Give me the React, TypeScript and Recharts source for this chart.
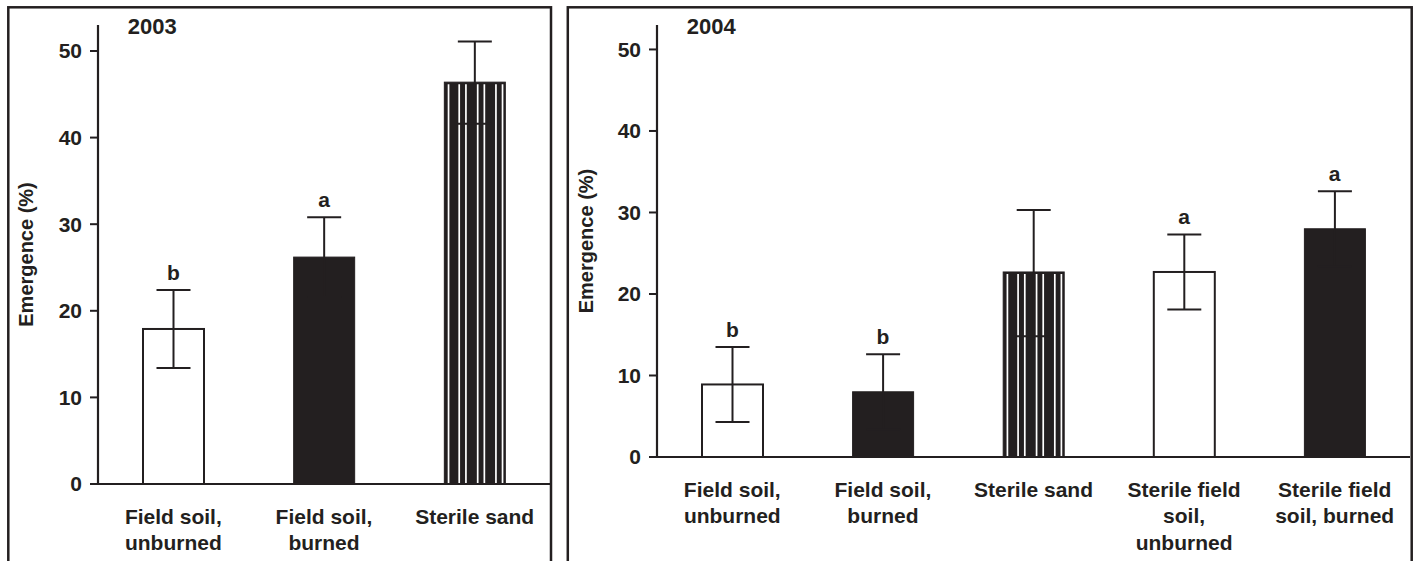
import React from 'react';
import { ComposedChart, Bar, Line, XAxis, YAxis, ErrorBar, LabelList } from 'recharts';

// ---------- data ----------
const categories2003 = ['Field soil,\nunburned', 'Field soil,\nburned', 'Sterile sand'];
const means2003 = [17.9, 26.2, 46.4];
const errLow2003 = [4.5, 4.6, 4.8];
const errHigh2003 = [4.5, 4.6, 4.7];
const letters2003 = ['b', 'a', ''];
const fills2003 = ['open', 'solid', 'striped'];

const categories2004 = [
  'Field soil,\nunburned',
  'Field soil,\nburned',
  'Sterile sand',
  'Sterile field\nsoil,\nunburned',
  'Sterile field\nsoil, burned',
];
const means2004 = [8.9, 8.0, 22.7, 22.7, 28.0];
const errLow2004 = [4.6, 4.6, 7.9, 4.6, 4.6];
const errHigh2004 = [4.6, 4.6, 7.6, 4.6, 4.6];
const letters2004 = ['b', 'b', '', 'a', 'a'];
const fills2004 = ['open', 'solid', 'striped', 'open', 'solid'];

const yTicks = [0, 10, 20, 30, 40, 50];
const yDomain: [number, number] = [0, 53];

const build = (
  cats: string[],
  means: number[],
  lo: number[],
  hi: number[],
  letters: string[],
  fills: string[]
) =>
  cats.map((c, i) => ({
    name: c,
    mean: means[i],
    err: [lo[i], hi[i]],
    top: means[i] + hi[i],
    letter: letters[i],
    kind: fills[i],
  }));

const data2003 = build(categories2003, means2003, errLow2003, errHigh2003, letters2003, fills2003);
const data2004 = build(categories2004, means2004, errLow2004, errHigh2004, letters2004, fills2004);

// ---------- style ----------
const INK = '#231f20';
const FONT = '"Liberation Sans", Arial, Helvetica, sans-serif';
const STRIPES = [0.069, 0.244, 0.354, 0.547, 0.656, 0.846, 0.954];

const BarShape = (props: any) => {
  const { x, y, width, height, payload } = props;
  if (width == null || height == null) return null;
  const kind = payload?.kind;
  if (kind === 'open') {
    return <rect x={x} y={y} width={width} height={height} fill="#fff" stroke={INK} strokeWidth={2} />;
  }
  if (kind === 'solid') {
    return <rect x={x} y={y} width={width} height={height} fill={INK} stroke={INK} strokeWidth={1} />;
  }
  return (
    <g>
      <rect x={x} y={y} width={width} height={height} fill={INK} stroke={INK} strokeWidth={1} />
      {STRIPES.map((f, i) => (
        <line
          key={i}
          x1={x + f * width}
          x2={x + f * width}
          y1={y + 2}
          y2={y + height}
          stroke="#fff"
          strokeWidth={1.7}
        />
      ))}
    </g>
  );
};

const XTick = (props: any) => {
  const { x, y, payload } = props;
  const lines = String(payload.value).split('\n');
  return (
    <g>
      {lines.map((l, i) => (
        <text
          key={i}
          x={x}
          y={y + 39.5 + i * 26.8}
          textAnchor="middle"
          fontFamily={FONT}
          fontWeight={700}
          fontSize={21}
          fill={INK}
        >
          {l}
        </text>
      ))}
    </g>
  );
};

const LetterLabel = (props: any) => {
  const { x, y, value } = props;
  if (!value) return null;
  return (
    <text x={x} y={y - 10} textAnchor="middle" fontFamily={FONT} fontWeight={700} fontSize={21} fill={INK}>
      {value}
    </text>
  );
};

type PanelProps = {
  data: any[];
  width: number;
  height: number;
  yAxisWidth: number;
  xAxisHeight: number;
  marginRight: number;
};

const Panel = ({ data, width, height, yAxisWidth, xAxisHeight, marginRight }: PanelProps) => (
  <ComposedChart
    width={width}
    height={height}
    data={data}
    margin={{ top: 25, right: marginRight, left: 0, bottom: 0 }}
    barSize={61}
  >
    <XAxis
      dataKey="name"
      interval={0}
      height={xAxisHeight}
      tickLine={false}
      tickSize={0}
      tickMargin={0}
      axisLine={{ stroke: INK, strokeWidth: 2.2 }}
      tick={(p: any) => <XTick {...p} />}
    />
    <YAxis
      width={yAxisWidth}
      domain={yDomain}
      ticks={yTicks}
      interval={0}
      allowDataOverflow
      tickSize={8}
      tickMargin={8}
      axisLine={{ stroke: INK, strokeWidth: 2.2 }}
      tickLine={{ stroke: INK, strokeWidth: 2 }}
      tick={{ fontFamily: FONT, fontWeight: 700, fontSize: 21, fill: INK }}
    />
    <Bar dataKey="mean" isAnimationActive={false} shape={(p: any) => <BarShape {...p} />}>
      <ErrorBar dataKey="err" direction="y" width={17} stroke={INK} strokeWidth={2} />
    </Bar>
    <Line
      dataKey="top"
      stroke="none"
      dot={false}
      activeDot={false}
      isAnimationActive={false}
      legendType="none"
    >
      <LabelList dataKey="letter" content={(p: any) => <LetterLabel {...p} />} />
    </Line>
  </ComposedChart>
);

const textStyle = { fontFamily: FONT, fontWeight: 700, fill: INK } as const;

export default function App() {
  return (
    <div
      style={{
        position: 'absolute',
        left: 0,
        top: 0,
        width: 1418,
        height: 561,
        overflow: 'hidden',
        background: '#fff',
      }}
    >
      <div style={{ position: 'absolute', left: 0, top: 0 }}>
        <Panel data={data2003} width={560} height={561} yAxisWidth={98} xAxisHeight={77} marginRight={10} />
      </div>
      <div style={{ position: 'absolute', left: 560, top: 0 }}>
        <Panel data={data2004} width={858} height={561} yAxisWidth={97} xAxisHeight={104} marginRight={8} />
      </div>
      <svg
        width={1418}
        height={561}
        style={{ position: 'absolute', left: 0, top: 0, pointerEvents: 'none' }}
      >
        <rect x={8.3} y={7.3} width={542.7} height={700} fill="none" stroke={INK} strokeWidth={2.5} />
        <rect x={567.8} y={7.3} width={843.9} height={700} fill="none" stroke={INK} strokeWidth={2.5} />
        <text x={127.7} y={34} fontSize={22} {...textStyle}>
          2003
        </text>
        <text x={686.7} y={33.5} fontSize={22} {...textStyle}>
          2004
        </text>
        <text
          x={33.3}
          y={254.5}
          fontSize={20}
          textAnchor="middle"
          transform="rotate(-90 33.3 254.5)"
          {...textStyle}
        >
          Emergence (%)
        </text>
        <text
          x={592.6}
          y={241}
          fontSize={20}
          textAnchor="middle"
          transform="rotate(-90 592.6 241)"
          {...textStyle}
        >
          Emergence (%)
        </text>
      </svg>
    </div>
  );
}
